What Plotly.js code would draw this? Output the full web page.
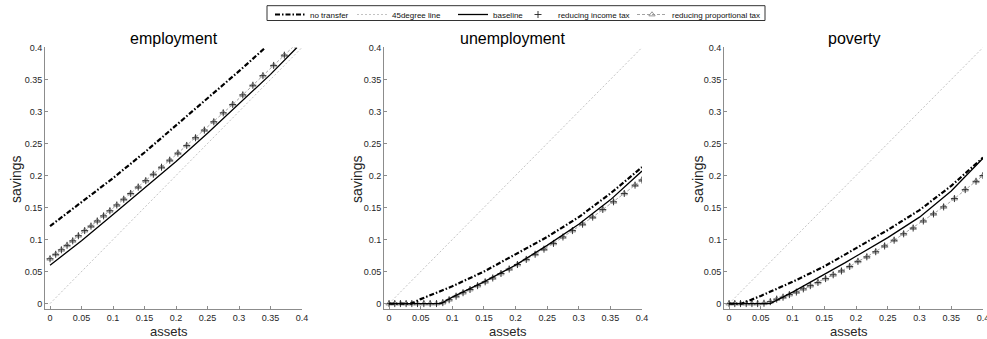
<!DOCTYPE html>
<html>
<head>
<meta charset="utf-8">
<script src="https://cdn.plot.ly/plotly-3.0.1.min.js"></script>
<style>html,body{margin:0;padding:0;background:#fff;}#chart{width:987px;height:339px;}</style>
</head>
<body>
<div id="chart"></div>
<script>
// ---------- data ----------
const panelTitles = ['employment', 'unemployment', 'poverty'];
const seriesNames = ['no transfer', '45degree line', 'baseline', 'reducing income tax', 'reducing proportional tax'];
const tickVals = [0, 0.05, 0.1, 0.15, 0.2, 0.25, 0.3, 0.35, 0.4];
const tickText = ['0', '0.05', '0.1', '0.15', '0.2', '0.25', '0.3', '0.35', '0.4'];

// 45 degree reference line
const diagX = [0, 0.4];
const diagY = [0, 0.4];

// asset grid used by the marker series
const assetGrid = [0, 0.009, 0.018, 0.027, 0.036, 0.045, 0.055, 0.065, 0.075, 0.085, 0.095, 0.106, 0.117, 0.128, 0.14, 0.152, 0.164, 0.177, 0.19, 0.203, 0.217, 0.231, 0.245, 0.26, 0.275, 0.29, 0.306, 0.322, 0.338, 0.355, 0.372, 0.389, 0.4];

// employment
const empNoTransferX = [0, 0.05, 0.1, 0.15, 0.2, 0.25, 0.3, 0.342];
const empNoTransferY = [0.121, 0.158, 0.196, 0.236, 0.278, 0.32, 0.363, 0.4];
const empBaselineX = [0, 0.05, 0.1, 0.15, 0.2, 0.25, 0.3, 0.35, 0.392];
const empBaselineY = [0.06, 0.098, 0.139, 0.18, 0.222, 0.266, 0.312, 0.358, 0.4];
const empIncomeTax = [0.070, 0.077, 0.084, 0.091, 0.098, 0.106, 0.114, 0.121, 0.129, 0.137, 0.145, 0.154, 0.163, 0.172, 0.182, 0.192, 0.202, 0.213, 0.224, 0.235, 0.247, 0.259, 0.271, 0.284, 0.298, 0.311, 0.326, 0.341, 0.356, 0.372, 0.388, 0.404];
const empPropTax = [0.070, 0.077, 0.084, 0.091, 0.098, 0.106, 0.114, 0.121, 0.129, 0.137, 0.145, 0.154, 0.163, 0.172, 0.182, 0.192, 0.202, 0.213, 0.224, 0.235, 0.247, 0.259, 0.271, 0.284, 0.298, 0.311, 0.326, 0.341, 0.356, 0.372, 0.388, 0.404];

// unemployment
const unempNoTransferX = [0, 0.035, 0.05, 0.1, 0.15, 0.2, 0.25, 0.3, 0.35, 0.4];
const unempNoTransferY = [0, 0, 0.007, 0.027, 0.05, 0.077, 0.104, 0.135, 0.172, 0.213];
const unempBaselineX = [0, 0.082, 0.1, 0.15, 0.2, 0.25, 0.3, 0.35, 0.4];
const unempBaselineY = [0, 0, 0.01, 0.034, 0.06, 0.091, 0.124, 0.162, 0.207];
const unempIncomeTax = [0, 0, 0, 0, 0, 0, 0, 0, 0, 0.0015, 0.006, 0.0115, 0.017, 0.022, 0.028, 0.034, 0.040, 0.047, 0.054, 0.061, 0.069, 0.077, 0.085, 0.094, 0.104, 0.114, 0.124, 0.135, 0.147, 0.159, 0.172, 0.185, 0.193];
const unempPropTax = [0, 0, 0, 0, 0, 0, 0, 0, 0, 0.0015, 0.006, 0.0115, 0.017, 0.022, 0.028, 0.034, 0.040, 0.047, 0.054, 0.061, 0.069, 0.077, 0.085, 0.094, 0.104, 0.114, 0.124, 0.135, 0.147, 0.159, 0.172, 0.185, 0.193];

// poverty
const povNoTransferX = [0, 0.02, 0.05, 0.1, 0.15, 0.2, 0.25, 0.3, 0.35, 0.4];
const povNoTransferY = [0, 0, 0.012, 0.034, 0.058, 0.086, 0.115, 0.146, 0.184, 0.228];
const povBaselineX = [0, 0.065, 0.1, 0.15, 0.183, 0.2, 0.25, 0.3, 0.35, 0.4];
const povBaselineY = [0, 0, 0.018, 0.045, 0.064, 0.074, 0.103, 0.135, 0.176, 0.227];
const povIncomeTax = [0, 0, 0, 0, 0, 0, 0.0005, 0.003, 0.007, 0.010, 0.014, 0.018, 0.023, 0.028, 0.033, 0.039, 0.045, 0.051, 0.058, 0.066, 0.073, 0.081, 0.090, 0.099, 0.109, 0.118, 0.129, 0.140, 0.151, 0.164, 0.178, 0.191, 0.2];
const povPropTax = [0, 0, 0, 0, 0, 0, 0.0005, 0.003, 0.007, 0.010, 0.014, 0.018, 0.023, 0.028, 0.033, 0.039, 0.045, 0.051, 0.058, 0.066, 0.073, 0.081, 0.090, 0.099, 0.109, 0.118, 0.129, 0.140, 0.151, 0.164, 0.178, 0.191, 0.2];

// ---------- build ----------
const panels = [
  {ntX: empNoTransferX, ntY: empNoTransferY, blX: empBaselineX, blY: empBaselineY, inc: empIncomeTax, prop: empPropTax},
  {ntX: unempNoTransferX, ntY: unempNoTransferY, blX: unempBaselineX, blY: unempBaselineY, inc: unempIncomeTax, prop: unempPropTax},
  {ntX: povNoTransferX, ntY: povNoTransferY, blX: povBaselineX, blY: povBaselineY, inc: povIncomeTax, prop: povPropTax}
];

const FONT = 'Liberation Sans, Arial, sans-serif';
const traces = [];
const legendIds = ['legend', 'legend2', 'legend3', 'legend4', 'legend5'];

panels.forEach((p, i) => {
  const xa = i === 0 ? 'x' : 'x' + (i + 1);
  const ya = i === 0 ? 'y' : 'y' + (i + 1);
  const show = i === 0;
  traces.push({x: diagX, y: diagY, xaxis: xa, yaxis: ya, mode: 'lines', name: seriesNames[1],
    legend: legendIds[1], showlegend: show,
    line: {color: '#b4b4b4', width: 0.8, dash: '2px,2px'}});
  traces.push({x: assetGrid.slice(0, p.prop.length), y: p.prop, xaxis: xa, yaxis: ya, mode: 'lines+markers', name: seriesNames[4],
    legend: legendIds[4], showlegend: show,
    line: {color: '#8c8c8c', width: 0.8, dash: '3px,2px'},
    marker: {symbol: 'triangle-up-open', size: 5.5, color: '#8c8c8c', line: {color: '#8c8c8c', width: 0.9}}});
  traces.push({x: assetGrid.slice(0, p.inc.length), y: p.inc, xaxis: xa, yaxis: ya, mode: 'markers', name: seriesNames[3],
    legend: legendIds[3], showlegend: show,
    marker: {symbol: 'cross-thin-open', size: 5, color: '#222', line: {color: '#222', width: 0.9}}});
  traces.push({x: p.blX, y: p.blY, xaxis: xa, yaxis: ya, mode: 'lines', name: seriesNames[2],
    legend: legendIds[2], showlegend: show,
    line: {color: '#000', width: 1.3}});
  traces.push({x: p.ntX, y: p.ntY, xaxis: xa, yaxis: ya, mode: 'lines', name: seriesNames[0],
    legend: legendIds[0], showlegend: show,
    line: {color: '#000', width: 2.2, dash: '5px,2px,1.5px,2px'}});
});

const W = 987, H = 339;
const xDomains = [[45 / W, 302 / W], [384 / W, 642 / W], [724 / W, 983 / W]];
const yDomain = [1 - 309 / H, 1 - 44 / H];

function axisCommon() {
  return {
    showgrid: false, zeroline: false, showline: true, linecolor: '#8c8c8c', linewidth: 1,
    ticks: 'inside', ticklen: 3, tickcolor: '#8c8c8c', tickwidth: 1,
    tickvals: tickVals, ticktext: tickText, ticklabeloverflow: 'allow',
    tickfont: {family: FONT, size: 9, color: '#262626'},
    fixedrange: true, automargin: false
  };
}

const layout = {
  width: W, height: H,
  margin: {l: 0, r: 0, t: 0, b: 0},
  paper_bgcolor: '#fff', plot_bgcolor: '#fff',
  font: {family: FONT, color: '#000'},
  annotations: [],
  shapes: [{type: 'rect', xref: 'paper', yref: 'paper', x0: 267 / W, x1: 765 / W, y0: 1 - 16.7 / H, y1: 1 - 1.7 / H,
    line: {color: '#333', width: 1}, fillcolor: 'rgba(0,0,0,0)', layer: 'below'}]
};

for (let i = 0; i < 3; i++) {
  const xk = i === 0 ? 'xaxis' : 'xaxis' + (i + 1);
  const yk = i === 0 ? 'yaxis' : 'yaxis' + (i + 1);
  const xa = axisCommon();
  xa.domain = xDomains[i];
  xa.range = [-0.008, 0.4];
  xa.anchor = i === 0 ? 'y' : 'y' + (i + 1);
  const ya = axisCommon();
  ya.domain = yDomain;
  ya.range = [-0.009, 0.4];
  ya.anchor = i === 0 ? 'x' : 'x' + (i + 1);
  layout[xk] = xa;
  layout[yk] = ya;
  const cx = (xDomains[i][0] + xDomains[i][1]) / 2;
  layout.annotations.push({text: panelTitles[i], xref: 'paper', yref: 'paper', x: cx, y: 1 - 35 / H,
    xanchor: 'center', yanchor: 'middle', showarrow: false, font: {family: FONT, size: 16, color: '#000'}});
  layout.annotations.push({text: 'assets', xref: 'paper', yref: 'paper', x: cx - 5 / W, y: 1 - 331 / H,
    xanchor: 'center', yanchor: 'middle', showarrow: false, font: {family: FONT, size: 13, color: '#262626'}});
  const sx = [16, 357, 698][i];
  layout.annotations.push({text: 'savings', xref: 'paper', yref: 'paper', x: sx / W, y: 1 - 178 / H, textangle: -90,
    xanchor: 'center', yanchor: 'middle', showarrow: false, font: {family: FONT, size: 14, color: '#262626'}});
}

const legendStarts = [270, 352, 453, 518, 632];
legendIds.forEach((id, k) => {
  layout[id] = {x: legendStarts[k] / W, y: 1 + 4.5 / H, xanchor: 'left', yanchor: 'top',
    orientation: 'h', bgcolor: 'rgba(0,0,0,0)', borderwidth: 0, itemwidth: 30,
    font: {family: FONT, size: 8, color: '#111'}, traceorder: 'normal'};
});

Plotly.newPlot('chart', traces, layout, {staticPlot: true, displayModeBar: false});
</script>
</body>
</html>
